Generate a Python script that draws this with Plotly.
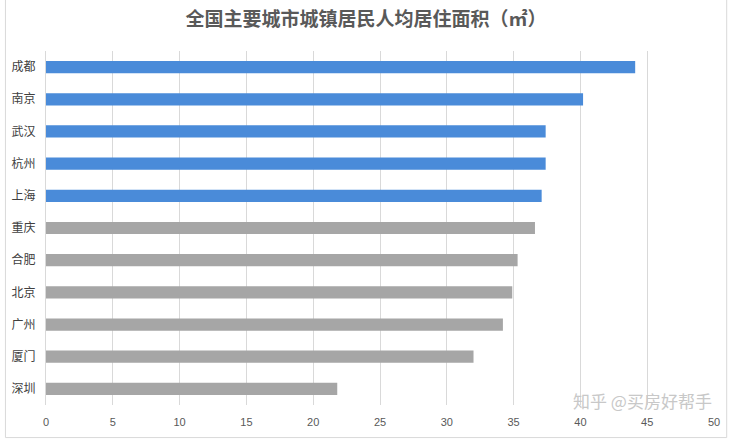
import plotly.graph_objects as go

cities = ["成都", "南京", "武汉", "杭州", "上海", "重庆", "合肥", "北京", "广州", "厦门", "深圳"]
areas = [44.1, 40.2, 37.4, 37.4, 37.1, 36.6, 35.3, 34.9, 34.2, 32.0, 21.8]
colors = ["#4A8BD9"] * 5 + ["#A6A6A6"] * 6
x_ticks = [0, 5, 10, 15, 20, 25, 30, 35, 40, 45, 50]

fig = go.Figure()
fig.add_trace(go.Bar(
    y=cities, x=areas, orientation="h",
    marker=dict(color=colors, line=dict(width=0)),
    width=0.38,
))

fig.update_layout(
    width=732, height=440,
    margin=dict(l=42, r=15, t=51, b=34),
    paper_bgcolor="white", plot_bgcolor="white",
    showlegend=False,
    title=dict(text="<b>全国主要城市城镇居民人均居住面积（㎡）</b>", x=0.5, xanchor="center",
               y=0.955, yanchor="middle",
               font=dict(family="Noto Sans CJK SC", size=19, color="#595959")),
    font=dict(family="Noto Sans CJK SC", size=12, color="#595959"),
    xaxis=dict(range=[0, 50], tickvals=x_ticks, showgrid=True, gridcolor="#D9D9D9",
               gridwidth=1, zeroline=False, showline=False, ticks="", ticklabelstandoff=9,
               tickfont=dict(size=11, color="#595959", family="Liberation Sans")),
    yaxis=dict(categoryorder="array", categoryarray=cities[::-1], showgrid=False,
               showline=True, linecolor="#D9D9D9", ticks="", ticklabelstandoff=7,
               tickfont=dict(size=12, color="#404040")),
)

fig.add_annotation(text="知乎 @买房好帮手", xref="paper", yref="paper",
                   x=1.0, y=0.012, xanchor="right", yanchor="middle", showarrow=False,
                   font=dict(family="Noto Sans CJK SC", size=17, color="#C8C8C8"))

fig.add_shape(type="rect", xref="paper", yref="paper", x0=-0.0607, x1=1.019, y0=-0.092, y1=1.15,
              line=dict(color="#D9D9D9", width=1))

fig.write_html("out.html")
